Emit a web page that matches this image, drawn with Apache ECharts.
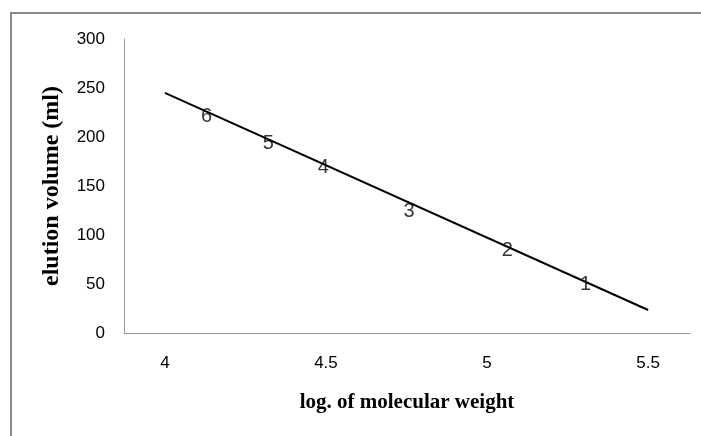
<!DOCTYPE html>
<html>
<head>
<meta charset="utf-8">
<style>
html,body{margin:0;padding:0;background:#fff;}
#chart{width:701px;height:436px;}
</style>
<script src="https://cdn.jsdelivr.net/npm/echarts@6/dist/echarts.min.js"></script>
</head>
<body>
<div id="chart"></div>
<script>
const xTicks = [4, 4.5, 5, 5.5];
const trendX = [4, 5.5];
const trendY = [245, 23.5];
const pointLabels = ['1', '2', '3', '4', '5', '6'];
const pointX = [5.306, 5.063, 4.758, 4.492, 4.321, 4.129];
const pointY = [50, 84.7, 123.8, 169.1, 192.9, 220.7];

const chart = echarts.init(document.getElementById('chart'));
const tickFont = 'Liberation Sans';
const titleFont = 'Liberation Serif';

chart.setOption({
  animation: false,
  backgroundColor: '#fff',
  graphic: [{
    type: 'rect',
    shape: {x: 11, y: 13, width: 900, height: 900},
    style: {fill: 'none', stroke: '#888', lineWidth: 2},
    silent: true
  }],
  grid: {left: 124, right: 11, top: 39, bottom: 103, containLabel: false},
  xAxis: {
    type: 'value',
    min: 3.873,
    max: 5.63,
    name: 'log. of molecular weight',
    nameLocation: 'middle',
    nameGap: 59,
    nameTextStyle: {fontFamily: titleFont, fontWeight: 'bold', fontSize: 21, color: '#000'},
    axisLine: {show: true, lineStyle: {color: '#999', width: 1}},
    axisTick: {show: false},
    splitLine: {show: false},
    axisLabel: {
      customValues: xTicks,
      fontFamily: tickFont, fontSize: 17, color: '#000', margin: 22
    }
  },
  yAxis: {
    type: 'value',
    min: 0,
    max: 300,
    interval: 50,
    name: 'elution volume (ml)',
    nameLocation: 'middle',
    nameGap: 60,
    nameTextStyle: {fontFamily: titleFont, fontWeight: 'bold', fontSize: 24, color: '#000'},
    axisLine: {show: true, lineStyle: {color: '#999', width: 1}},
    axisTick: {show: false},
    splitLine: {show: false},
    axisLabel: {fontFamily: tickFont, fontSize: 17, color: '#000', margin: 19}
  },
  series: [
    {
      type: 'line',
      data: trendX.map((x, i) => [x, trendY[i]]),
      showSymbol: false,
      lineStyle: {color: '#000', width: 2},
      z: 2
    },
    {
      type: 'scatter',
      data: pointX.map((x, i) => ({value: [x, pointY[i]], name: pointLabels[i]})),
      symbolSize: 1,
      itemStyle: {color: 'rgba(0,0,0,0)'},
      label: {
        show: true,
        position: 'inside',
        formatter: p => p.name,
        fontFamily: tickFont,
        fontSize: 20,
        color: '#000'
      },
      z: 3
    }
  ]
});
</script>
</body>
</html>
